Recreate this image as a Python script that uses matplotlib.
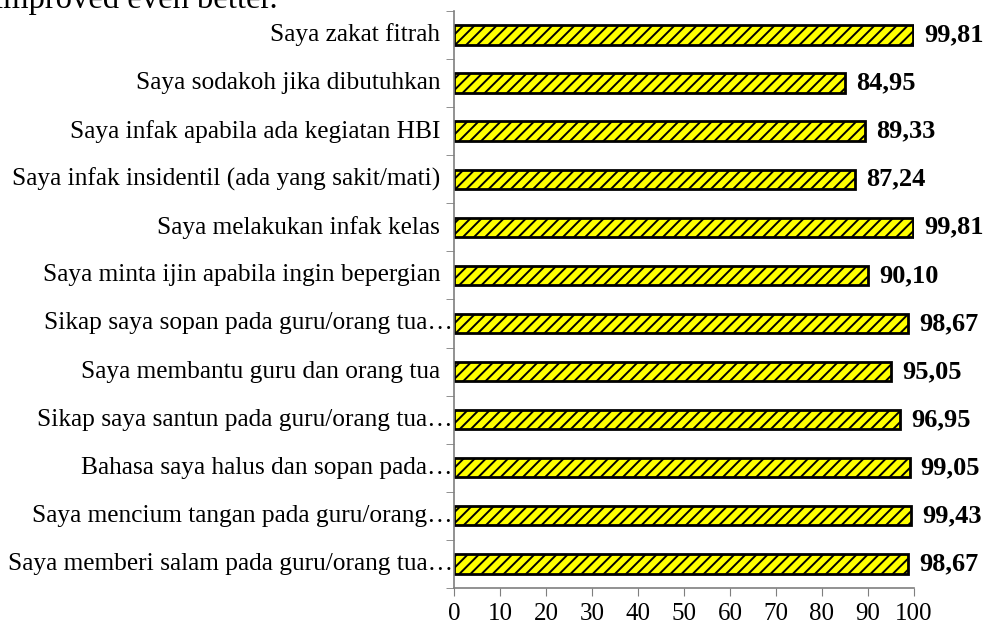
import numpy as np
import matplotlib.pyplot as plt
from matplotlib.transforms import blended_transform_factory

plt.rcParams['font.family'] = ['Liberation Serif', 'DejaVu Serif']
plt.rcParams['hatch.linewidth'] = 1.4

# categories from top to bottom
labels = [
    "Saya zakat fitrah",
    "Saya sodakoh jika dibutuhkan",
    "Saya infak apabila ada kegiatan HBI",
    "Saya infak insidentil (ada yang sakit/mati)",
    "Saya melakukan infak kelas",
    "Saya minta ijin apabila ingin bepergian",
    "Sikap saya sopan pada guru/orang tua\u2026",
    "Saya membantu guru dan orang tua",
    "Sikap saya santun pada guru/orang tua\u2026",
    "Bahasa saya halus dan sopan pada\u2026",
    "Saya mencium tangan pada guru/orang\u2026",
    "Saya memberi salam pada guru/orang tua\u2026",
]
values = [99.81, 84.95, 89.33, 87.24, 99.81, 90.10,
          98.67, 95.05, 96.95, 99.05, 99.43, 98.67]
xticks = [0, 10, 20, 30, 40, 50, 60, 70, 80, 90, 100]

fig = plt.figure(figsize=(9.87, 6.28), dpi=100)
ax = fig.add_axes([0.46, 0.0637, 0.466, 0.919])

# leftover line of text from the page above the chart
fig.text(-0.006, 0.9875, "improved even better.", fontsize=23.5,
         va='baseline', ha='left')

y = np.arange(len(labels))
ax.barh(y, values, height=0.4, color='#ffff00', edgecolor='black',
        linewidth=2.0, hatch='///')

ax.set_xlim(0, 100)
ax.set_ylim(len(labels) - 0.5, -0.5)
ax.set_xticks(xticks)
ax.set_xticklabels([str(t) for t in xticks], fontsize=18)
ax.tick_params(axis='x', length=6, color='#7f7f7f', pad=5)

ax.set_yticks([])
ax.set_yticks(np.arange(len(labels) + 1) - 0.5, minor=True)
ax.tick_params(axis='y', which='minor', length=6, color='#7f7f7f', labelleft=False)

for side in ['top', 'right']:
    ax.spines[side].set_visible(False)
for side in ['left', 'bottom']:
    ax.spines[side].set_color('#7f7f7f')
    ax.spines[side].set_linewidth(1.2)

tr = blended_transform_factory(ax.transAxes, ax.transData)
for i, lab in enumerate(labels):
    pad = 1 if lab.endswith('\u2026') else 10
    ax.annotate(lab, xy=(0, i), xycoords=tr, xytext=(-pad, 0),
                textcoords='offset points', ha='right', va='center',
                fontsize=18.3)

for i, v in enumerate(values):
    ax.annotate(f"{v:.2f}".replace('.', ','), xy=(v, i), xytext=(8, 0),
                textcoords='offset points', ha='left', va='center',
                fontsize=19, fontweight='bold', annotation_clip=False)

fig.savefig('out.png', dpi=100)
